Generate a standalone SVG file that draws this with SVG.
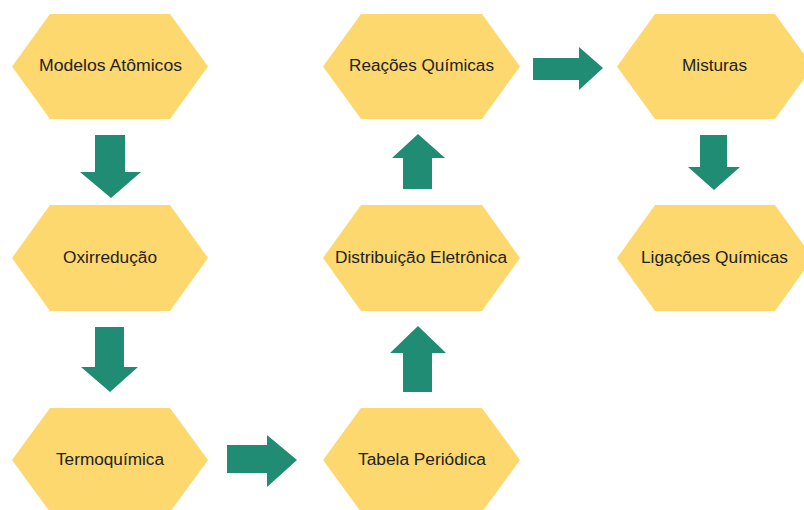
<svg xmlns="http://www.w3.org/2000/svg" width="804" height="510" viewBox="0 0 804 510">
<style>
.hex{fill:#FDD86F}
.arr{fill:#1F8C73}
.lbl{font-family:"Liberation Sans",Arial,sans-serif;font-size:16px;fill:#222;text-anchor:middle}
</style>
<rect width="804" height="510" fill="#fff"/>
<g id="connectors">
<polygon class="arr" points="95,135 125,135 125,172 141,172 111,198 80,172 95,172"/>
<polygon class="arr" points="95,327 124,327 124,367 138,367 110,392 81,367 95,367"/>
<polygon class="arr" points="227,445 267,445 267,435 297,460 267,487 267,473 227,473"/>
<polygon class="arr" points="403,392 432,392 432,353 446,353 418,326 390,353 403,353"/>
<polygon class="arr" points="403,189 432,189 432,158 445,158 418,134 392,158 403,158"/>
<polygon class="arr" points="533,58 579,58 579,47 603,68 579,90 579,80 533,80"/>
<polygon class="arr" points="700,135 727,135 727,167 740,167 714,190 688,167 700,167"/>
</g>
<g id="modelos">
<polygon class="hex" points="12,66.5 50,14 170,14 208,66.5 170,119 50,119"/>
<text class="lbl" x="110.5" y="71" textLength="143" lengthAdjust="spacingAndGlyphs">Modelos Atômicos</text>
</g>
<g id="oxirreducao">
<polygon class="hex" points="12,258 50,205 170,205 208,258 170,311 50,311"/>
<text class="lbl" x="110" y="263" textLength="94" lengthAdjust="spacingAndGlyphs">Oxirredução</text>
</g>
<g id="termoquimica">
<polygon class="hex" points="12,460 50,408 170,408 208,460 170,512 50,512"/>
<text class="lbl" x="110" y="465" textLength="108" lengthAdjust="spacingAndGlyphs">Termoquímica</text>
</g>
<g id="tabela">
<polygon class="hex" points="323,460 361,408 482,408 520,460 482,512 361,512"/>
<text class="lbl" x="422" y="465" textLength="128" lengthAdjust="spacingAndGlyphs">Tabela Periódica</text>
</g>
<g id="distribuicao">
<polygon class="hex" points="323,258 361,205 482,205 520,258 482,311 361,311"/>
<text class="lbl" x="421" y="263" textLength="172" lengthAdjust="spacingAndGlyphs">Distribuição Eletrônica</text>
</g>
<g id="reacoes">
<polygon class="hex" points="323,66.5 361,14 482,14 520,66.5 482,119 361,119"/>
<text class="lbl" x="421.5" y="71" textLength="145" lengthAdjust="spacingAndGlyphs">Reações Químicas</text>
</g>
<g id="misturas">
<polygon class="hex" points="617,66.5 655,14 775,14 813,66.5 775,119 655,119"/>
<text class="lbl" x="714.5" y="71" textLength="65" lengthAdjust="spacingAndGlyphs">Misturas</text>
</g>
<g id="ligacoes">
<polygon class="hex" points="617,258 655,205 775,205 813,258 775,311 655,311"/>
<text class="lbl" x="714.5" y="263" textLength="147" lengthAdjust="spacingAndGlyphs">Ligações Químicas</text>
</g>
</svg>
